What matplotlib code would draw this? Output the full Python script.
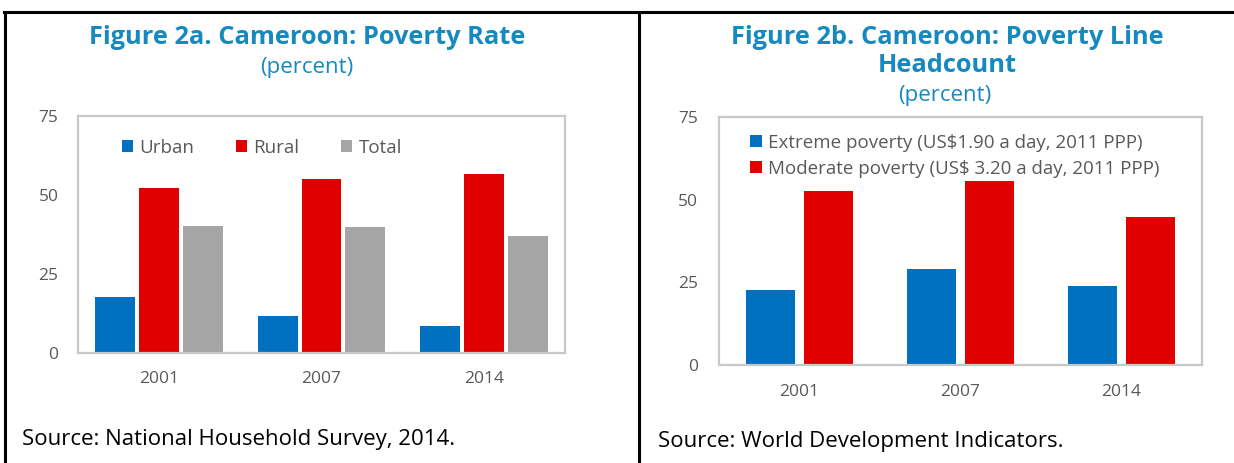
"""Cameroon poverty charts: two Excel-style bar panels side by side."""

import matplotlib.pyplot as plt
import numpy as np
from matplotlib.lines import Line2D

plt.rcParams["font.family"] = ["Open Sans", "DejaVu Sans"]

# ---------------------------------------------------------------------------
# Data
# ---------------------------------------------------------------------------

years = ["2001", "2007", "2014"]

urban = [17.8, 11.8, 8.6]
rural = [52.3, 55.2, 56.7]
total = [40.1, 39.8, 37.1]

extreme = [22.8, 29.0, 23.8]
moderate = [52.7, 55.5, 44.8]

yticks = [0, 25, 50, 75]

BLUE = "#0070C0"
RED = "#E00000"
GRAY = "#A5A5A5"
TITLE = "#1689BE"
TEXT = "#595959"
FRAME = "#C8C8C8"

W, H = 1234, 463
fig = plt.figure(figsize=(W / 100, H / 100), dpi=100)


def fx(px):
    return px / W


def fy(py):
    return 1 - py / H


def style_axes(ax, xlabels, xpad, ypad):
    ax.set_ylim(0, 75)
    ax.set_yticks(yticks)
    ax.set_xticks(range(len(xlabels)))
    ax.set_xticklabels(xlabels)
    ax.set_xlim(-0.5, len(xlabels) - 0.5)
    ax.tick_params(axis="x", length=0, pad=xpad, labelsize=12.5, labelcolor=TEXT)
    ax.tick_params(axis="y", length=0, pad=ypad, labelsize=12.5, labelcolor=TEXT)
    for sp in ax.spines.values():
        sp.set_color(FRAME)
        sp.set_linewidth(1.6)


# ---------------------------------------------------------------------------
# Left panel: poverty rate
# ---------------------------------------------------------------------------

ax1 = fig.add_axes([fx(78), fy(353), fx(565 - 78), fy(116) - fy(353)])
x = np.arange(len(years))
bw = 0.245
ax1.bar(x - 0.27, urban, bw, color=BLUE, label="Urban")
ax1.bar(x, rural, bw, color=RED, label="Rural")
ax1.bar(x + 0.27, total, bw, color=GRAY, label="Total")
style_axes(ax1, years, 13, 14)
ax1.legend(
    loc="upper left",
    bbox_to_anchor=(0.055, 0.975),
    ncol=3,
    frameon=False,
    fontsize=13.5,
    labelcolor=TEXT,
    handlelength=0.6,
    handleheight=0.6,
    handletextpad=0.35,
    columnspacing=2.2,
)

# ---------------------------------------------------------------------------
# Right panel: poverty line headcount
# ---------------------------------------------------------------------------

ax2 = fig.add_axes([fx(719), fy(365), fx(1202 - 719), fy(117) - fy(365)])
bw2 = 0.31
ax2.bar(x - 0.18, extreme, bw2, color=BLUE,
        label="Extreme poverty (US$1.90 a day, 2011 PPP)")
ax2.bar(x + 0.18, moderate, bw2, color=RED,
        label="Moderate poverty (US$ 3.20 a day, 2011 PPP)")
style_axes(ax2, years, 14, 15)
ax2.legend(
    loc="upper left",
    bbox_to_anchor=(0.03, 1.0),
    frameon=False,
    fontsize=13.5,
    labelcolor=TEXT,
    handlelength=0.6,
    handleheight=0.6,
    handletextpad=0.35,
    labelspacing=0.42,
)

# ---------------------------------------------------------------------------
# Titles, sources and the table border
# ---------------------------------------------------------------------------

fig.text(fx(307), fy(37), "Figure 2a. Cameroon: Poverty Rate", ha="center",
         va="center", fontsize=18.3, fontweight="bold", color=TITLE)
fig.text(fx(307), fy(68), "(percent)", ha="center", va="center",
         fontsize=16, color=TITLE)
fig.text(fx(947), fy(37), "Figure 2b. Cameroon: Poverty Line", ha="center",
         va="center", fontsize=18.3, fontweight="bold", color=TITLE)
fig.text(fx(947), fy(65), "Headcount", ha="center", va="center",
         fontsize=18.3, fontweight="bold", color=TITLE)
fig.text(fx(945), fy(96), "(percent)", ha="center", va="center",
         fontsize=16, color=TITLE)

fig.text(fx(22), fy(440), "Source: National Household Survey, 2014.",
         ha="left", va="center", fontsize=16, color="black")
fig.text(fx(658), fy(442), "Source: World Development Indicators.",
         ha="left", va="center", fontsize=16, color="black")

for xs, ys in [([fx(4), fx(W)], [fy(12), fy(12)]),
               ([fx(5), fx(5)], [fy(12), 0]),
               ([fx(639), fx(639)], [fy(12), 0])]:
    fig.add_artist(Line2D(xs, ys, color="black", lw=2.2))

fig.savefig("out.png", dpi=100)
